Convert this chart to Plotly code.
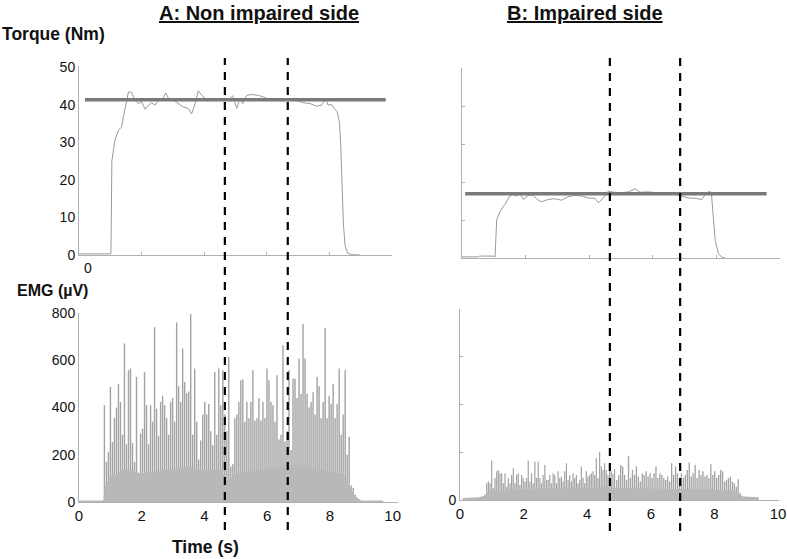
"""Torque and EMG traces, non impaired vs impaired side (Plotly)."""

import numpy as np
import plotly.graph_objects as go

W, H = 787, 559
FONT = "Arial, Liberation Sans, sans-serif"

# ---- torque (Nm) ----
torque_a_t = [0, 1.02, 1.03, 1.05, 1.10, 1.15, 1.26, 1.36, 1.42, 1.52, 1.58, 1.68, 1.79, 1.90,
              2.00, 2.11, 2.22, 2.32, 2.43, 2.54, 2.64, 2.78, 2.86, 3.02, 3.17, 3.33, 3.49, 3.60,
              3.71, 3.81, 3.92, 4.03, 4.13, 4.29, 4.45, 4.61, 4.77, 4.91, 5.04, 5.14, 5.23, 5.36,
              5.52, 5.73, 5.94, 6.16, 6.37, 6.53, 6.69, 6.85, 7.01, 7.17, 7.38, 7.59, 7.75, 7.88,
              7.96, 8.07, 8.15, 8.25, 8.32, 8.36, 8.40, 8.45, 8.50, 8.58, 8.70, 8.98]
torque_a = [0.3, 0.3, 8, 25, 27.9, 30.6, 33.2, 34.1, 36.8, 41.2, 43.4, 43.3, 41.2, 40.3,
            40.8, 38.8, 39.9, 40.5, 39.9, 41.2, 41.2, 43.1, 41.6, 41.2, 40.3, 39.4, 39.0, 37.6,
            40.3, 43.7, 42.5, 41.6, 41.0, 41.4, 41.6, 41.6, 41.2, 42.4, 39.0, 41.6, 40.3, 42.5,
            42.7, 42.5, 41.9, 41.0, 41.2, 41.0, 41.6, 41.4, 41.0, 40.5, 40.3, 39.6, 39.9, 41.6,
            39.9, 40.1, 39.0, 38.1, 35.4, 29.7, 20, 8, 2.5, 0.5, 0.1, 0]

torque_b_t = [0.0, 0.5, 0.55, 1.0, 1.04, 1.07, 1.09, 1.2, 1.35, 1.5, 1.61, 1.72, 1.82, 1.93,
              2.09, 2.24, 2.37, 2.5, 2.71, 2.92, 3.13, 3.34, 3.55, 3.76, 3.97, 4.18, 4.29, 4.44,
              4.6, 4.76, 5.02, 5.23, 5.44, 5.6, 5.86, 6.07, 6.28, 6.49, 6.7, 6.91, 7.12, 7.33,
              7.54, 7.69, 7.8, 7.85, 7.9, 7.96, 8.06, 8.17, 8.27]
torque_b = [0.3, 0.3, 0.5, 0.5, 0.3, 5, 10, 12.3, 14.1, 16.3, 16.7, 16.3, 17.0, 15.4,
            16.5, 16.5, 15.4, 14.8, 15.4, 15.6, 15.2, 16.1, 16.5, 16.3, 15.8, 15.7, 14.5, 15.8,
            17.6, 17.3, 17.2, 17.4, 18.2, 17.3, 17.4, 17.2, 16.9, 17.3, 16.9, 16.3, 15.8, 15.7,
            15.4, 17.2, 17.5, 16.3, 11, 4.8, 1.2, 0.2, 0]

# target torque lines: [t start, t end], level
target_a_t = [0.19, 9.8]
target_a = 41.3
target_b_t = [0.1, 9.58]
target_b = 16.9

# ---- EMG (uV): spike heights, evenly spaced over each span ----
emg_a_span = [0.81, 8.87]
emg_a_peaks = [410, 170, 213, 487, 254, 355, 400, 500, 423, 285,
               671, 245, 558, 565, 250, 170, 530, 100, 290, 310,
               550, 410, 245, 410, 340, 740, 395, 280, 423, 450,
               410, 355, 285, 423, 440, 340, 760, 490, 423, 650,
               508,
               460, 468, 795, 285, 565, 340, 180, 260, 370, 423,
               370, 415, 300, 240, 550, 285, 565, 410, 558, 370,
               300, 615, 150, 160, 355, 370, 423, 515, 520, 340,
               423, 355, 423, 558, 345, 355, 440, 345, 423, 355,
               565, 515, 423, 410, 340, 537, 265, 285, 664, 255,
               300, 558, 220, 523, 523, 440, 607, 458, 753, 607,
               458, 400, 423, 465, 370, 530, 490, 355, 423, 735,
               355, 450, 416, 500, 355, 416, 565, 285, 370, 558,
               200, 276, 70, 60, 30, 15]
# dense lower part of the signal (envelope)
emg_a_body_t = [0, 0.78, 0.82, 1.0, 1.5, 2.0, 2.5, 3.0, 3.5, 4.0, 4.5, 4.75, 5.0, 5.5,
                6.0, 6.5, 7.0, 7.5, 8.0, 8.4, 8.6, 8.75, 8.9, 9.0, 9.7]
emg_a_body = [6, 6, 60, 110, 140, 120, 130, 140, 150, 130, 140, 90, 120, 130,
              140, 150, 160, 140, 130, 120, 70, 35, 15, 6, 6]

emg_b1_span = [0.84, 4.86]
emg_b1_peaks = [70, 77, 70, 165, 50, 92, 120, 126, 112, 112,
                70, 112, 56, 92, 70, 105, 133, 70, 105, 112,
                63, 105, 92, 77, 92, 165, 77, 112, 70, 161,
                92, 161, 92, 70, 105, 147, 84, 84, 105, 70,
                112, 105, 70, 120, 92, 98, 77, 120, 154, 84,
                105, 77, 112, 92, 105, 70, 84, 140, 92, 70,
                120, 98, 105, 112, 120, 105, 175, 92, 202, 140,
                126, 154, 126, 105, 140, 120, 110, 130]
emg_b2_span = [4.93, 8.81]
emg_b2_peaks = [84, 105, 147, 140, 105, 84, 185, 92, 126, 105,
                140, 98, 77, 112, 105, 120, 98, 112, 92, 112,
                140, 92, 112, 105, 92, 84, 98, 77, 154, 105,
                140, 112, 84, 112, 92, 105, 126, 157, 98, 112,
                147, 92, 126, 105, 120, 98, 105, 92, 150, 105,
                120, 92, 105, 126, 120, 77, 84, 92, 98, 77,
                70, 56, 87, 28]
emg_b_body_t = [0.08, 0.6, 0.75, 0.85, 1.0, 1.5, 2.0, 3.0, 4.0, 4.5, 5.0, 6.0, 7.0, 8.0,
                8.6, 8.8, 8.9, 9.4]
emg_b_body = [8, 12, 18, 30, 40, 45, 45, 47, 50, 55, 50, 47, 45, 44,
              38, 25, 15, 12]

# dashed markers (s)
marks_a = [4.66, 6.67]
marks_b = [4.65, 6.86]

TORQUE_COLOR = "#9a9a9a"
TARGET_COLOR = "#7a7a7a"
EMG_COLOR = "#a3a3a3"
BODY_COLOR = "#b8b8b8"
AXIS_COLOR = "#b0b0b0"


def px_x(p):
    return p / W


def px_y(p):
    return 1 - p / H


def spikes(span, values):
    return np.linspace(span[0], span[1], len(values))


fig = go.Figure()

# top left: torque A
fig.add_trace(go.Scatter(x=torque_a_t, y=torque_a, mode="lines",
                         line=dict(color=TORQUE_COLOR, width=1), xaxis="x", yaxis="y"))
fig.add_trace(go.Scatter(x=target_a_t, y=[target_a, target_a], mode="lines",
                         line=dict(color=TARGET_COLOR, width=3.5), xaxis="x", yaxis="y"))

# top right: torque B
fig.add_trace(go.Scatter(x=torque_b_t, y=torque_b, mode="lines",
                         line=dict(color=TORQUE_COLOR, width=1), xaxis="x2", yaxis="y2"))
fig.add_trace(go.Scatter(x=target_b_t, y=[target_b, target_b], mode="lines",
                         line=dict(color=TARGET_COLOR, width=3.5), xaxis="x2", yaxis="y2"))

# bottom left: EMG A
fig.add_trace(go.Scatter(x=emg_a_body_t, y=emg_a_body, mode="lines", fill="tozeroy",
                         fillcolor=BODY_COLOR, line=dict(width=0), xaxis="x3", yaxis="y3"))
fig.add_trace(go.Bar(x=spikes(emg_a_span, emg_a_peaks), y=emg_a_peaks, width=0.045,
                     marker=dict(color=EMG_COLOR, line=dict(width=0)), xaxis="x3", yaxis="y3"))

# bottom right: EMG B
fig.add_trace(go.Scatter(x=emg_b_body_t, y=emg_b_body, mode="lines", fill="tozeroy",
                         fillcolor=BODY_COLOR, line=dict(width=0), xaxis="x4", yaxis="y4"))
fig.add_trace(go.Bar(x=spikes(emg_b1_span, emg_b1_peaks), y=emg_b1_peaks, width=0.038,
                     marker=dict(color=EMG_COLOR, line=dict(width=0)), xaxis="x4", yaxis="y4"))
fig.add_trace(go.Bar(x=spikes(emg_b2_span, emg_b2_peaks), y=emg_b2_peaks, width=0.042,
                     marker=dict(color=EMG_COLOR, line=dict(width=0)), xaxis="x4", yaxis="y4"))

axis_base = dict(showline=True, linecolor=AXIS_COLOR, linewidth=1, showgrid=False,
                 zeroline=False, fixedrange=True, automargin=False,
                 tickcolor=AXIS_COLOR, ticklen=3,
                 tickfont=dict(family=FONT, size=14, color="#111"))

fig.update_layout(
    width=W, height=H, autosize=False,
    margin=dict(l=0, r=0, t=0, b=0, pad=0, autoexpand=False),
    paper_bgcolor="white", plot_bgcolor="white",
    showlegend=False, barmode="overlay", hovermode=False,
    font=dict(family=FONT, color="#111"),
    xaxis=dict(axis_base, domain=[px_x(79), px_x(392)], range=[0, 10], anchor="y",
               tickvals=[0, 2, 4, 6, 8, 10], ticks="inside", showticklabels=False),
    yaxis=dict(axis_base, domain=[px_y(255), px_y(66)], range=[0, 50.3], anchor="x",
               tickvals=[0, 10, 20, 30, 40, 50], ticks=""),
    xaxis2=dict(axis_base, domain=[px_x(462), px_x(780)], range=[0, 10], anchor="y2",
                tickvals=[0, 2, 4, 6, 8, 10], ticks="inside", showticklabels=False),
    yaxis2=dict(axis_base, domain=[px_y(258), px_y(68)], range=[0, 50], anchor="x2",
                tickvals=[0, 10, 20, 30, 40, 50], ticks="inside", showticklabels=False),
    xaxis3=dict(axis_base, domain=[px_x(79), px_x(398)], range=[0, 10.17], anchor="y3",
                tickvals=[0, 2, 4, 6, 8, 10], ticks="",
                tickfont=dict(family=FONT, size=15, color="#111")),
    yaxis3=dict(axis_base, domain=[px_y(502), px_y(313)], range=[0, 800], anchor="x3",
                tickvals=[0, 200, 400, 600, 800], ticks=""),
    xaxis4=dict(axis_base, domain=[px_x(460), px_x(779)], range=[0, 10.03], anchor="y4",
                tickvals=[0, 2, 4, 6, 8, 10], ticks="",
                tickfont=dict(family=FONT, size=15, color="#111")),
    yaxis4=dict(axis_base, domain=[px_y(500), px_y(309)], range=[0, 800], anchor="x4",
                tickvals=[0, 200, 400, 600, 800], ticktext=["0", "", "", "", ""],
                ticks="inside"),
)

# dashed vertical markers through torque and EMG panels
for t in marks_a:
    fig.add_shape(type="line", xref="x", yref="paper", x0=t, x1=t,
                  y0=px_y(530), y1=px_y(58),
                  line=dict(color="black", width=2.2, dash="8px,7px"), layer="above")
for t in marks_b:
    fig.add_shape(type="line", xref="x2", yref="paper", x0=t, x1=t,
                  y0=px_y(531), y1=px_y(58),
                  line=dict(color="black", width=2.2, dash="8px,7px"), layer="above")

bold = dict(family=FONT, color="#111")
label = dict(xref="paper", yref="paper", showarrow=False, yanchor="middle")
fig.add_annotation(label, text="<b><u>A: Non impaired side</u></b>", x=px_x(259),
                   y=px_y(13), xanchor="center", font=dict(bold, size=20))
fig.add_annotation(label, text="<b><u>B: Impaired side</u></b>", x=px_x(585),
                   y=px_y(13), xanchor="center", font=dict(bold, size=20))
fig.add_annotation(label, text="<b>Torque (Nm)</b>", x=0, y=px_y(34), xanchor="left",
                   font=dict(bold, size=17.5))
fig.add_annotation(label, text="<b>EMG (µV)</b>", x=px_x(15), y=px_y(290), xanchor="left",
                   font=dict(bold, size=16))
fig.add_annotation(label, text="<b>Time (s)</b>", x=px_x(205), y=px_y(547),
                   xanchor="center", font=dict(bold, size=17.5))
fig.add_annotation(text="0", x=0, y=px_y(268), xref="x", yref="paper", xanchor="left",
                   yanchor="middle", xshift=3, showarrow=False,
                   font=dict(family=FONT, size=14, color="#111"))

# the page's default body margin would push the figure 8px right and down
fig.write_html("out.html", config={"displayModeBar": False, "staticPlot": True},
               post_script="document.body.style.margin='0';document.body.style.overflow='hidden';")
